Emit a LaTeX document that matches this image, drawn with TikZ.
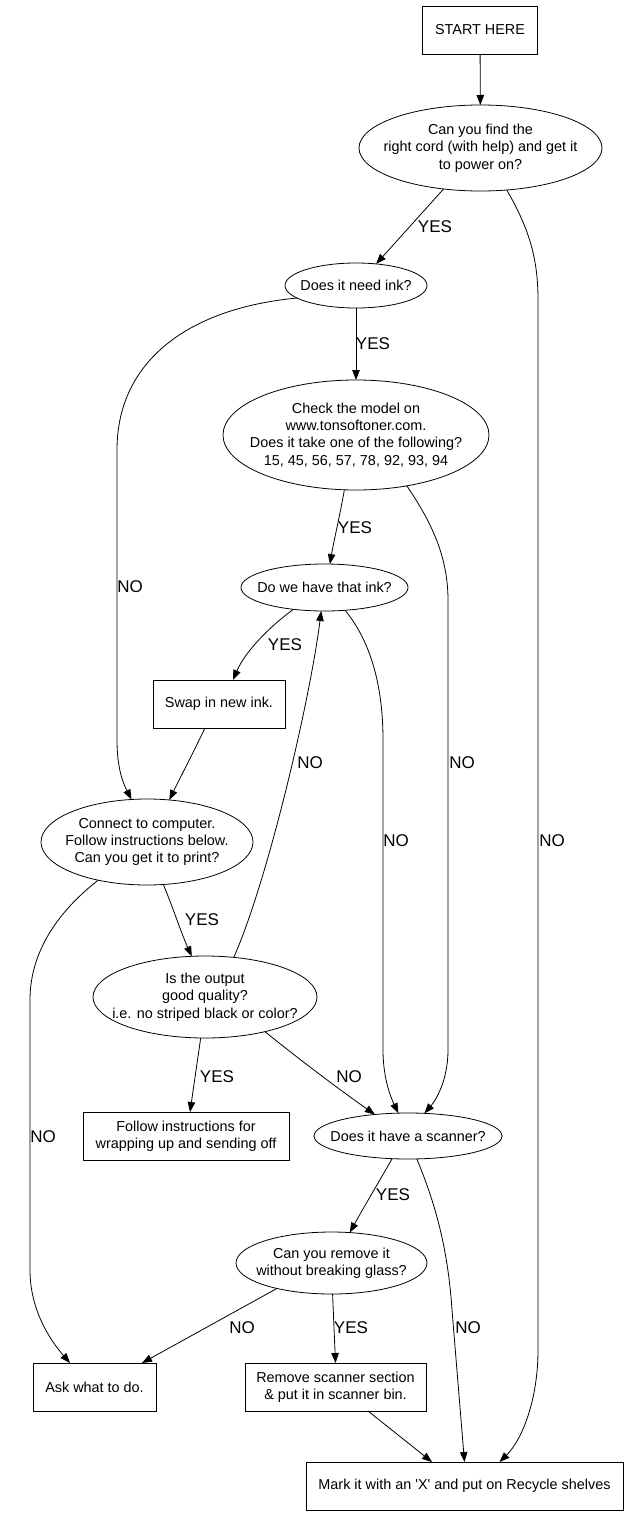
\documentclass[tikz,border=0pt]{standalone}
\usepackage{fontspec}
\setmainfont{Liberation Sans}
\usetikzlibrary{arrows.meta,shapes.geometric}
\tikzset{
  txt/.style={font=\fontsize{14.4}{17.3}\selectfont, align=center, inner sep=0pt},
  ell/.style={draw, ellipse, inner sep=0pt, outer sep=0pt, line width=0.8pt},
  box/.style={draw, rectangle, inner sep=0pt, outer sep=0pt, line width=0.8pt, txt},
  conn/.style={draw, line width=0.8pt, -{Triangle[length=10pt,width=7.5pt]}},
  lab/.style={font=\fontsize{17}{20}\selectfont, inner sep=0pt},
}
\begin{document}
\begin{tikzpicture}[x=1pt,y=-1pt]
\fill[white] (0,0) rectangle (629,1515);
\useasboundingbox (0,0) rectangle (629,1515);

% nodes
\node[box, minimum width=115pt, minimum height=48pt] (start) at (480,30) {START HERE};
\node[ell, minimum width=243pt, minimum height=86pt, label={[txt]center:{Can you find the\\right cord (with help) and get it\\to power on?}}] (n1) at (480.5,148) {};
\node[ell, minimum width=142pt, minimum height=45pt, label={[txt]center:{Does it need ink?}}] (n2) at (356,285.5) {};
\node[ell, minimum width=266pt, minimum height=110pt, label={[txt]center:{Check the model on\\www.tonsoftoner.com.\\Does it take one of the following?\\15, 45, 56, 57, 78, 92, 93, 94}}] (n3) at (356,435) {};
\node[ell, minimum width=167pt, minimum height=47pt, label={[txt]center:{Do we have that ink?}}] (n4) at (324.5,587.5) {};
\node[box, minimum width=132pt, minimum height=48pt] (n5) at (219,704) {Swap in new ink.};
\node[ell, minimum width=212pt, minimum height=86pt, label={[txt]center:{Connect to computer.\\Follow instructions below.\\Can you get it to print?}}] (n6) at (147,842) {};
\node[ell, minimum width=224pt, minimum height=82pt, label={[txt]center:{Is the output\\good quality?\\i.e. no striped black or color?}}] (n7) at (205,997) {};
\node[box, minimum width=206pt, minimum height=48pt] (n8) at (186,1136) {Follow instructions for\\wrapping up and sending off};
\node[ell, minimum width=188pt, minimum height=46pt, label={[txt]center:{Does it have a scanner?}}] (n9) at (408,1136) {};
\node[ell, minimum width=191pt, minimum height=62pt, label={[txt]center:{Can you remove it\\without breaking glass?}}] (n10) at (331.5,1263) {};
\node[box, minimum width=123pt, minimum height=48pt] (ask) at (94.5,1387) {Ask what to do.};
\node[box, minimum width=181pt, minimum height=48pt] (remove) at (335.5,1387) {Remove scanner section\\\& put it in scanner bin.};
\node[box, minimum width=317pt, minimum height=48pt] (mark) at (464.5,1486) {Mark it with an \textquotesingle X\textquotesingle\ and put on Recycle shelves};

% connectors
\draw[conn] (start) -- (n1);
\draw[conn] (n1.-132) -- (n2.47);
\draw[conn] (n1.-58) .. controls (530,230) and (538,260) .. (538,300) -- (538,1350) .. controls (538,1400) and (522,1440) .. ([xshift=35pt]mark.north);
\draw[conn] (n2) -- (n3);
\draw[conn] (n2.192) .. controls (190,308) and (117,360) .. (117,450) -- (117,740) .. controls (117,770) and (124,785) .. (n6.110);
\draw[conn] (n3.-102) .. controls (340,515) and (334,540) .. (n4.77);
\draw[conn] (n3.-45) .. controls (430,520) and (448,555) .. (448,600) -- (448,1050) .. controls (448,1080) and (436,1100) .. (n9.54);
\draw[conn] (n4.215) .. controls (268,628) and (245,652) .. ([xshift=14pt]n5.north);
\draw[conn] (n4.-48) .. controls (368,638) and (383,680) .. (383,740) -- (383,1050) .. controls (383,1080) and (392,1100) .. (n9.113);
\draw[conn] ([xshift=-14pt]n5.south) .. controls (192,755) and (178,782) .. (n6.62);
\draw[conn] (n6.-69) .. controls (172,905) and (182,935) .. (n7.108);
\draw[conn] (n6.218) .. controls (60,910) and (30,950) .. (30,1000) -- (30,1270) .. controls (30,1310) and (50,1340) .. ([xshift=-24.5pt]ask.north);
\draw[conn] (n7.54) .. controls (268,880) and (310,700) .. (n4.-98);
\draw[conn] (n7.-96) -- ([xshift=4pt]n8.north);
\draw[conn] (n7.-30) .. controls (300,1060) and (340,1090) .. (n9.147);
\draw[conn] (n9.-125) .. controls (380,1180) and (365,1205) .. (n10.59);
\draw[conn] (n9.-69) .. controls (436,1205) and (448,1250) .. (452,1310) -- (mark.north);
\draw[conn] (n10.205) -- ([xshift=47.5pt]ask.north);
\draw[conn] (n10.-88) -- (remove.north);
\draw[conn] ([xshift=32.5pt]remove.south) -- ([xshift=-32.5pt]mark.north);

% edge labels
\node[lab] (l1) at (435,227) {YES};
\node[lab] (l2) at (373,344) {YES};
\node[lab] (l3) at (130,587) {NO};
\node[lab] (l4) at (355,528) {YES};
\node[lab] (l5) at (462,763) {NO};
\node[lab] (l6) at (285,645) {YES};
\node[lab] (l7) at (310,763) {NO};
\node[lab] (l8) at (396,841) {NO};
\node[lab] (l9) at (552,841) {NO};
\node[lab] (l10) at (202,920) {YES};
\node[lab] (l11) at (43,1137) {NO};
\node[lab] (l12) at (217,1077) {YES};
\node[lab] (l13) at (349,1077) {NO};
\node[lab] (l14) at (393,1195) {YES};
\node[lab] (l15) at (242,1328) {NO};
\node[lab] (l16) at (351,1328) {YES};
\node[lab] (l17) at (468,1328) {NO};
\end{tikzpicture}
\end{document}
